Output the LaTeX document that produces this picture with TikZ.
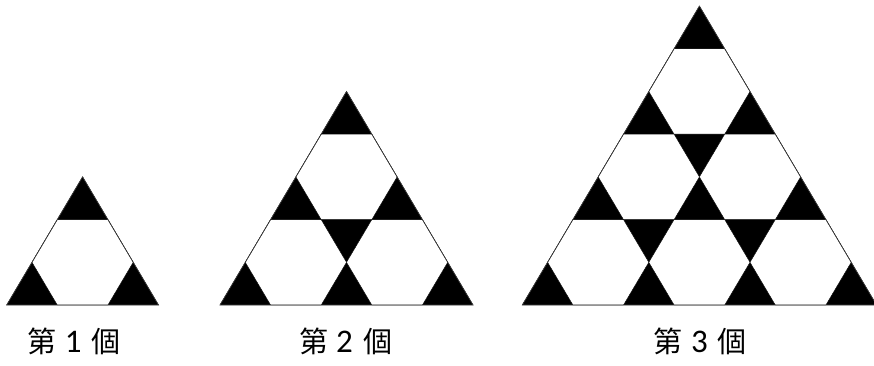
\documentclass[tikz,border=0pt]{standalone}
\usepackage{fontspec}
\newfontfamily\cjk{Noto Sans CJK TC}
\newfontfamily\digitfont[Numbers=Lining]{Carlito}
\begin{document}
\begin{tikzpicture}[x=1pt,y=1pt]
\tikzset{
  blacktri/.style={fill=black,draw=black,line width=0.5pt,line join=miter},
  hexa/.style={fill=white,draw=black,line width=0.4pt},
  outline/.style={draw=black!75,line width=0.6pt},
  lbl/.style={font=\cjk\fontsize{29}{29}\selectfont, inner sep=0pt, anchor=base},
  dig/.style={font=\digitfont\fontsize{33}{33}\selectfont, inner sep=0pt, anchor=base}
}
\useasboundingbox (0,0) rectangle (874,366);
% figure 1
\begin{scope}[shift={(6.7pt,61pt)}, x=50.6pt, y=42.7pt]
  \fill[blacktri] (0,0) -- (3,0) -- (1.5,3) -- cycle;
  \foreach \cx/\cr in {1.5/1}
    \fill[hexa] ({\cx-1},{\cr}) -- ({\cx-0.5},{\cr-1}) -- ({\cx+0.5},{\cr-1}) -- ({\cx+1},{\cr}) -- ({\cx+0.5},{\cr+1}) -- ({\cx-0.5},{\cr+1}) -- cycle;
  \draw[outline] (0,0) -- (3,0) -- (1.5,3) -- cycle;
\end{scope}
% figure 2
\begin{scope}[shift={(220pt,61pt)}, x=50.6pt, y=42.7pt]
  \fill[blacktri] (0,0) -- (5,0) -- (2.5,5) -- cycle;
  \foreach \cx/\cr in {1.5/1,3.5/1,2.5/3}
    \fill[hexa] ({\cx-1},{\cr}) -- ({\cx-0.5},{\cr-1}) -- ({\cx+0.5},{\cr-1}) -- ({\cx+1},{\cr}) -- ({\cx+0.5},{\cr+1}) -- ({\cx-0.5},{\cr+1}) -- cycle;
  \draw[outline] (0,0) -- (5,0) -- (2.5,5) -- cycle;
\end{scope}
% figure 3
\begin{scope}[shift={(522.3pt,61pt)}, x=50.6pt, y=42.7pt]
  \fill[blacktri] (0,0) -- (7,0) -- (3.5,7) -- cycle;
  \foreach \cx/\cr in {1.5/1,3.5/1,5.5/1,2.5/3,4.5/3,3.5/5}
    \fill[hexa] ({\cx-1},{\cr}) -- ({\cx-0.5},{\cr-1}) -- ({\cx+0.5},{\cr-1}) -- ({\cx+1},{\cr}) -- ({\cx+0.5},{\cr+1}) -- ({\cx-0.5},{\cr+1}) -- cycle;
  \draw[outline] (0,0) -- (7,0) -- (3.5,7) -- cycle;
\end{scope}
% labels
\node[lbl] (di1) at (42.2,13) {第};
\node[dig] (num1) at (73.2,13) {1};
\node[lbl] (ge1) at (106.2,13) {個};
\node[lbl] (di2) at (313.5,13) {第};
\node[dig] (num2) at (344.5,13) {2};
\node[lbl] (ge2) at (377.5,13) {個};
\node[lbl] (di3) at (668.3,13) {第};
\node[dig] (num3) at (699.5,13) {3};
\node[lbl] (ge3) at (732.3,13) {個};
\end{tikzpicture}
\end{document}
